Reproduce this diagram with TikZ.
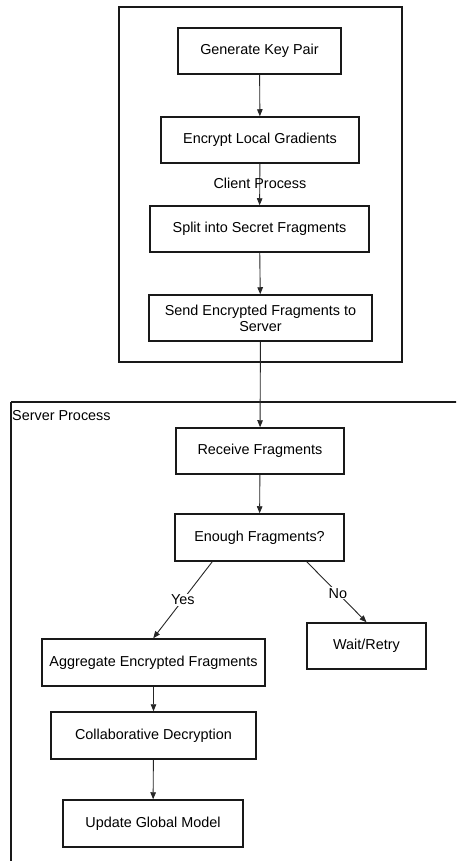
\documentclass[tikz,border=0pt]{standalone}
\usepackage{fontspec}
\setmainfont{Liberation Sans}
\usetikzlibrary{arrows.meta}
\begin{document}
\begin{tikzpicture}[x=1pt,y=-1pt,
  font=\fontsize{14.4}{17}\selectfont,
  stepbox/.style={draw=black!90,line width=1.5pt,fill=white,inner sep=0pt,align=center},
  arr/.style={draw=black!85,line width=0.9pt,-{Triangle[length=7pt,width=5.5pt]}},
  frame/.style={draw=black!90,line width=1.5pt},
  lbl/.style={fill=white,inner sep=1pt}]
\useasboundingbox (0,0) rectangle (456,861);
\fill[white] (0,0) rectangle (456,861);
\clip (0,0) rectangle (456,861);
% frames
\draw[frame] (119,7) rectangle (402,362);
\draw[frame] (11,402) -- (470,402);
\draw[frame] (11,402) -- (11,880);
\node[anchor=west,inner sep=0pt] (serverlbl) at (12,416) {Server Process};
% client nodes
\node[stepbox,minimum width=163pt,minimum height=46pt] (gen) at (259.5,51) {Generate Key Pair};
\node[stepbox,minimum width=198pt,minimum height=46pt] (enc) at (260,140) {Encrypt Local Gradients};
\node[stepbox,minimum width=219pt,minimum height=46pt] (split) at (259.5,229) {Split into Secret Fragments};
\node[stepbox,minimum width=223pt,minimum height=46pt] (send) at (260.5,318) {Send Encrypted Fragments to\\[-1pt]Server};
% server nodes
\node[stepbox,minimum width=168pt,minimum height=46pt] (recv) at (260,451) {Receive Fragments};
\node[stepbox,minimum width=169pt,minimum height=47pt] (enough) at (259.5,537.5) {Enough Fragments?};
\node[stepbox,minimum width=119pt,minimum height=46pt] (wait) at (366.5,646) {Wait/Retry};
\node[stepbox,minimum width=223pt,minimum height=47pt] (agg) at (153.5,662.5) {Aggregate Encrypted Fragments};
\node[stepbox,minimum width=205pt,minimum height=47pt] (coll) at (153.5,735.5) {Collaborative Decryption};
\node[stepbox,minimum width=180pt,minimum height=47pt] (upd) at (153,823.5) {Update Global Model};
% arrows
\draw[arr] (gen) -- (enc);
\draw[arr] (enc) -- (split);
\node[inner sep=0pt] (clientlbl) at (260,183) {Client Process};
\draw[arr] (split) -- (send);
\draw[arr] (send) -- (recv);
\draw[arr] (recv) -- (enough);
\draw[arr] ([xshift=38pt]enough.south west) -- node[lbl] {Yes} ([xshift=112pt]agg.north west);
\draw[arr] ([xshift=-38pt]enough.south east) -- node[lbl,pos=0.52] {No} (wait.north);
\draw[arr] (agg) -- (coll);
\draw[arr] (coll) -- (upd);
\end{tikzpicture}
\end{document}
